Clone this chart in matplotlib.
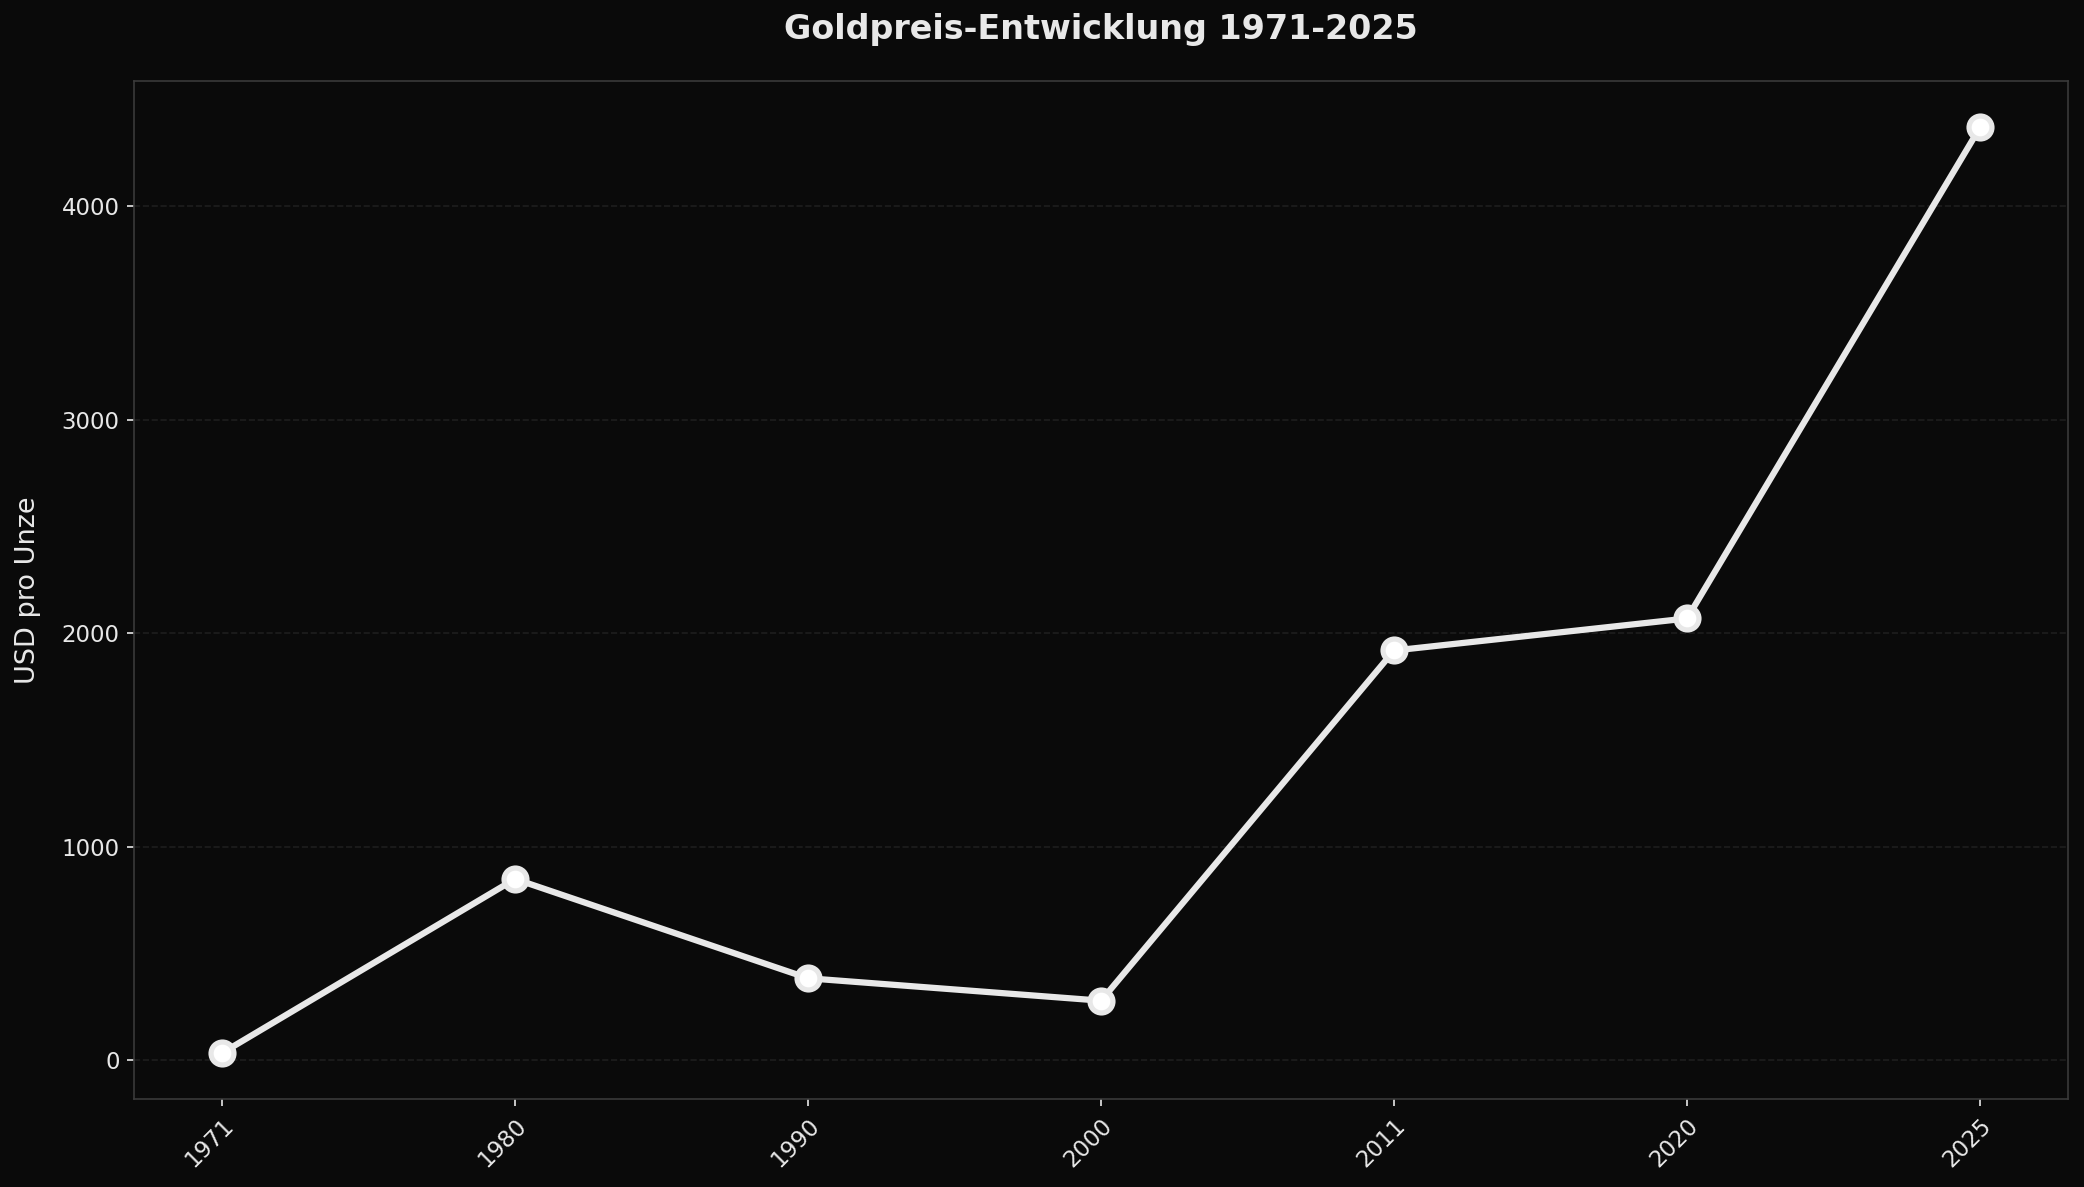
import matplotlib
matplotlib.use("Agg")
import matplotlib.pyplot as plt

# Goldpreis in USD pro Unze
jahre = ["1971", "1980", "1990", "2000", "2011", "2020", "2025"]
preise = [35, 850, 385, 280, 1920, 2070, 4370]

bg = "#0a0a0a"
fg = "#e8e8e8"

fig = plt.figure(figsize=(2084 / 150, 1187 / 150), dpi=150, facecolor=bg)
ax = fig.add_axes([0.0644, 0.0739, 0.9279, 0.8578])
ax.set_facecolor(bg)

x = list(range(len(jahre)))
ax.plot(x, preise, color=fg, linewidth=3, marker="o", markersize=11,
        markerfacecolor="white", markeredgecolor=fg, markeredgewidth=2.5, zorder=3)

ax.set_xticks(x)
ax.set_xticklabels(jahre, rotation=45, ha="right", rotation_mode="anchor")
ax.set_yticks([0, 1000, 2000, 3000, 4000])
ax.tick_params(colors=fg, labelsize=11)
ax.set_ylabel("USD pro Unze", color=fg, fontsize=13, labelpad=10)
ax.set_title("Goldpreis-Entwicklung 1971-2025", color=fg, fontsize=16,
             fontweight="bold", pad=20)

ax.grid(True, axis="y", linestyle="--", color="#1e1e1e", linewidth=0.8)
for s in ax.spines.values():
    s.set_color("#3a3a3a")

fig.savefig("out.png", dpi=150, facecolor=bg)
